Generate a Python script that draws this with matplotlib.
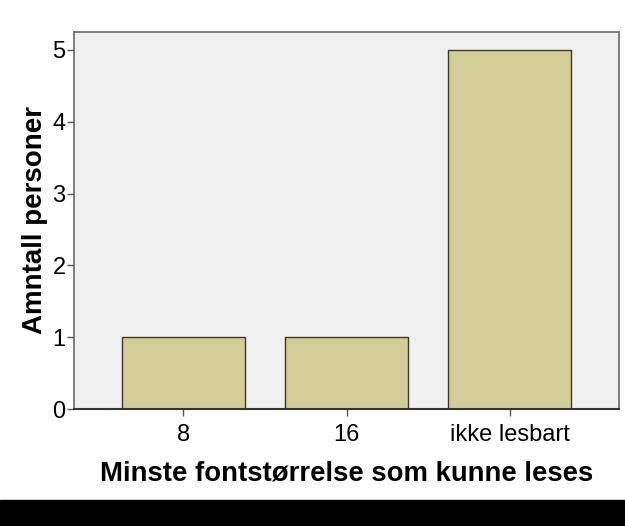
import matplotlib.pyplot as plt
from matplotlib.patches import Rectangle

# data
kategorier = ['8', '16', 'ikke lesbart']
antall = [1, 1, 5]
y_ticks = [0, 1, 2, 3, 4, 5]

plt.rcParams['font.family'] = ['Liberation Sans', 'DejaVu Sans']

fig = plt.figure(figsize=(6.25, 5.26), dpi=100)
fig.patch.set_facecolor('white')
ax = fig.add_axes([74 / 625, 1 - 409 / 526, 545 / 625, 377 / 526])
ax.set_facecolor('#F0F0F0')

x = range(len(kategorier))
ax.bar(x, antall, width=0.755, color='#D3CE97', edgecolor='#3a3a2a', linewidth=1.0, zorder=2)

ax.set_xlim(-0.67, 2.67)
ax.set_ylim(0, 5.25)
ax.set_xticks(list(x))
ax.set_xticklabels(kategorier, fontsize=17)
ax.set_yticks(y_ticks)
ax.set_yticklabels([str(v) for v in y_ticks], fontsize=17)

for s in ['left', 'top', 'right']:
    ax.spines[s].set_color('#6a6a6a')
    ax.spines[s].set_linewidth(1.2)
ax.spines['bottom'].set_color('#333333')
ax.spines['bottom'].set_linewidth(1.5)
ax.tick_params(axis='both', direction='out', length=5, width=1, color='#555555')
ax.tick_params(axis='y', pad=1)
ax.tick_params(axis='x', pad=6)

ax.set_xlabel('Minste fontstørrelse som kunne leses', fontsize=19.8, fontweight='bold', labelpad=10)
ax.set_ylabel('Amntall personer', fontsize=20, fontweight='bold', labelpad=3)

# svart stripe nederst
fig.patches.append(Rectangle((0, 0), 1, 26 / 526, transform=fig.transFigure, color='black', zorder=0))

fig.savefig('out.png', dpi=100)
